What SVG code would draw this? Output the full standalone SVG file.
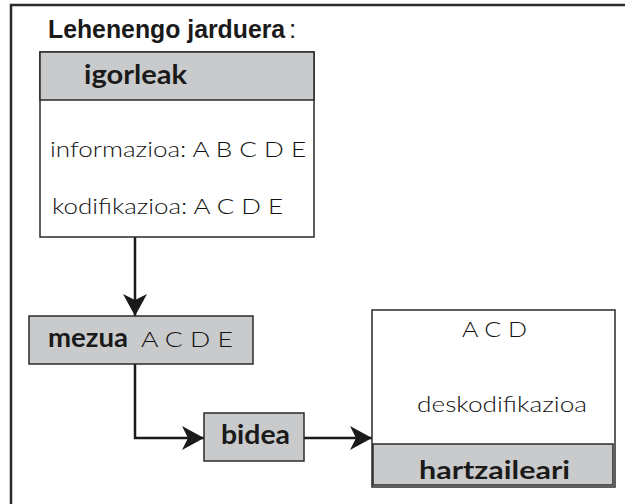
<svg xmlns="http://www.w3.org/2000/svg" width="625" height="504" viewBox="0 0 625 504">
<defs>
<style>
.box{fill:#fff;stroke:#2a2a2a;stroke-width:1.5}
.gray{fill:#c9cacc;stroke:#2a2a2a;stroke-width:1.5}
.lbl{font-family:Lato,"Open Sans","DejaVu Sans",sans-serif;font-weight:bold;fill:#1a1a1a}
.txt{font-family:Lato,"Open Sans","DejaVu Sans",sans-serif;font-weight:300;fill:#111}
.ttl{font-family:"Liberation Sans",Arial,sans-serif;font-size:26px;fill:#1a1a1a}
.con{fill:none;stroke:#1a1a1a;stroke-width:2.5}
</style>
<marker id="arr" viewBox="0 0 22 24" markerUnits="userSpaceOnUse" markerWidth="22" markerHeight="24" refX="22" refY="12" orient="auto">
<path d="M0,0 L22,12 L0,24 L6,12 Z" fill="#1a1a1a"/>
</marker>
</defs>
<rect width="625" height="504" fill="#fff"/>
<path d="M11,504 V5 H625" fill="none" stroke="#2a2a2a" stroke-width="2.5"/>
<g id="title">
<text class="ttl" transform="translate(48,38) scale(0.955,1)" font-weight="bold">Lehenengo jarduera</text>
<text class="ttl" x="289" y="38">:</text>
</g>
<g id="connectors">
<path class="con" d="M135,237 V316" marker-end="url(#arr)"/>
<path class="con" d="M135,364 V438 H204" marker-end="url(#arr)"/>
<path class="con" d="M304,438 H372" marker-end="url(#arr)"/>
</g>
<g id="igorleak">
<rect class="box" x="40" y="52" width="274" height="185"/>
<rect class="gray" x="40" y="52" width="274" height="48"/>
<text class="lbl" x="84" y="84" font-size="26" textLength="103" lengthAdjust="spacingAndGlyphs">igorleak</text>
<text class="txt" x="50" y="157" font-size="22" textLength="256" lengthAdjust="spacingAndGlyphs">informazioa: A B C D E</text>
<text class="txt" x="52" y="214" font-size="22" textLength="231" lengthAdjust="spacingAndGlyphs">kodifikazioa: A C D E</text>
</g>
<g id="mezua">
<rect class="gray" x="29" y="316" width="224" height="48"/>
<text class="lbl" x="48" y="347" font-size="27" textLength="80" lengthAdjust="spacingAndGlyphs">mezua</text>
<text class="txt" x="141" y="347" font-size="22" textLength="92" lengthAdjust="spacingAndGlyphs">A C D E</text>
</g>
<g id="bidea">
<rect class="gray" x="204" y="413" width="100" height="48"/>
<text class="lbl" x="221" y="444" font-size="26" textLength="69" lengthAdjust="spacingAndGlyphs">bidea</text>
</g>
<g id="hartzaileari">
<rect class="box" x="372" y="310" width="243" height="177"/>
<rect class="gray" x="373" y="444" width="240" height="41"/>
<text class="txt" x="462" y="337" font-size="22" textLength="65" lengthAdjust="spacingAndGlyphs">A C D</text>
<text class="txt" x="417" y="412" font-size="22" textLength="170" lengthAdjust="spacingAndGlyphs">deskodifikazioa</text>
<text class="lbl" x="419" y="479" font-size="24" textLength="151" lengthAdjust="spacingAndGlyphs">hartzaileari</text>
</g>
</svg>
